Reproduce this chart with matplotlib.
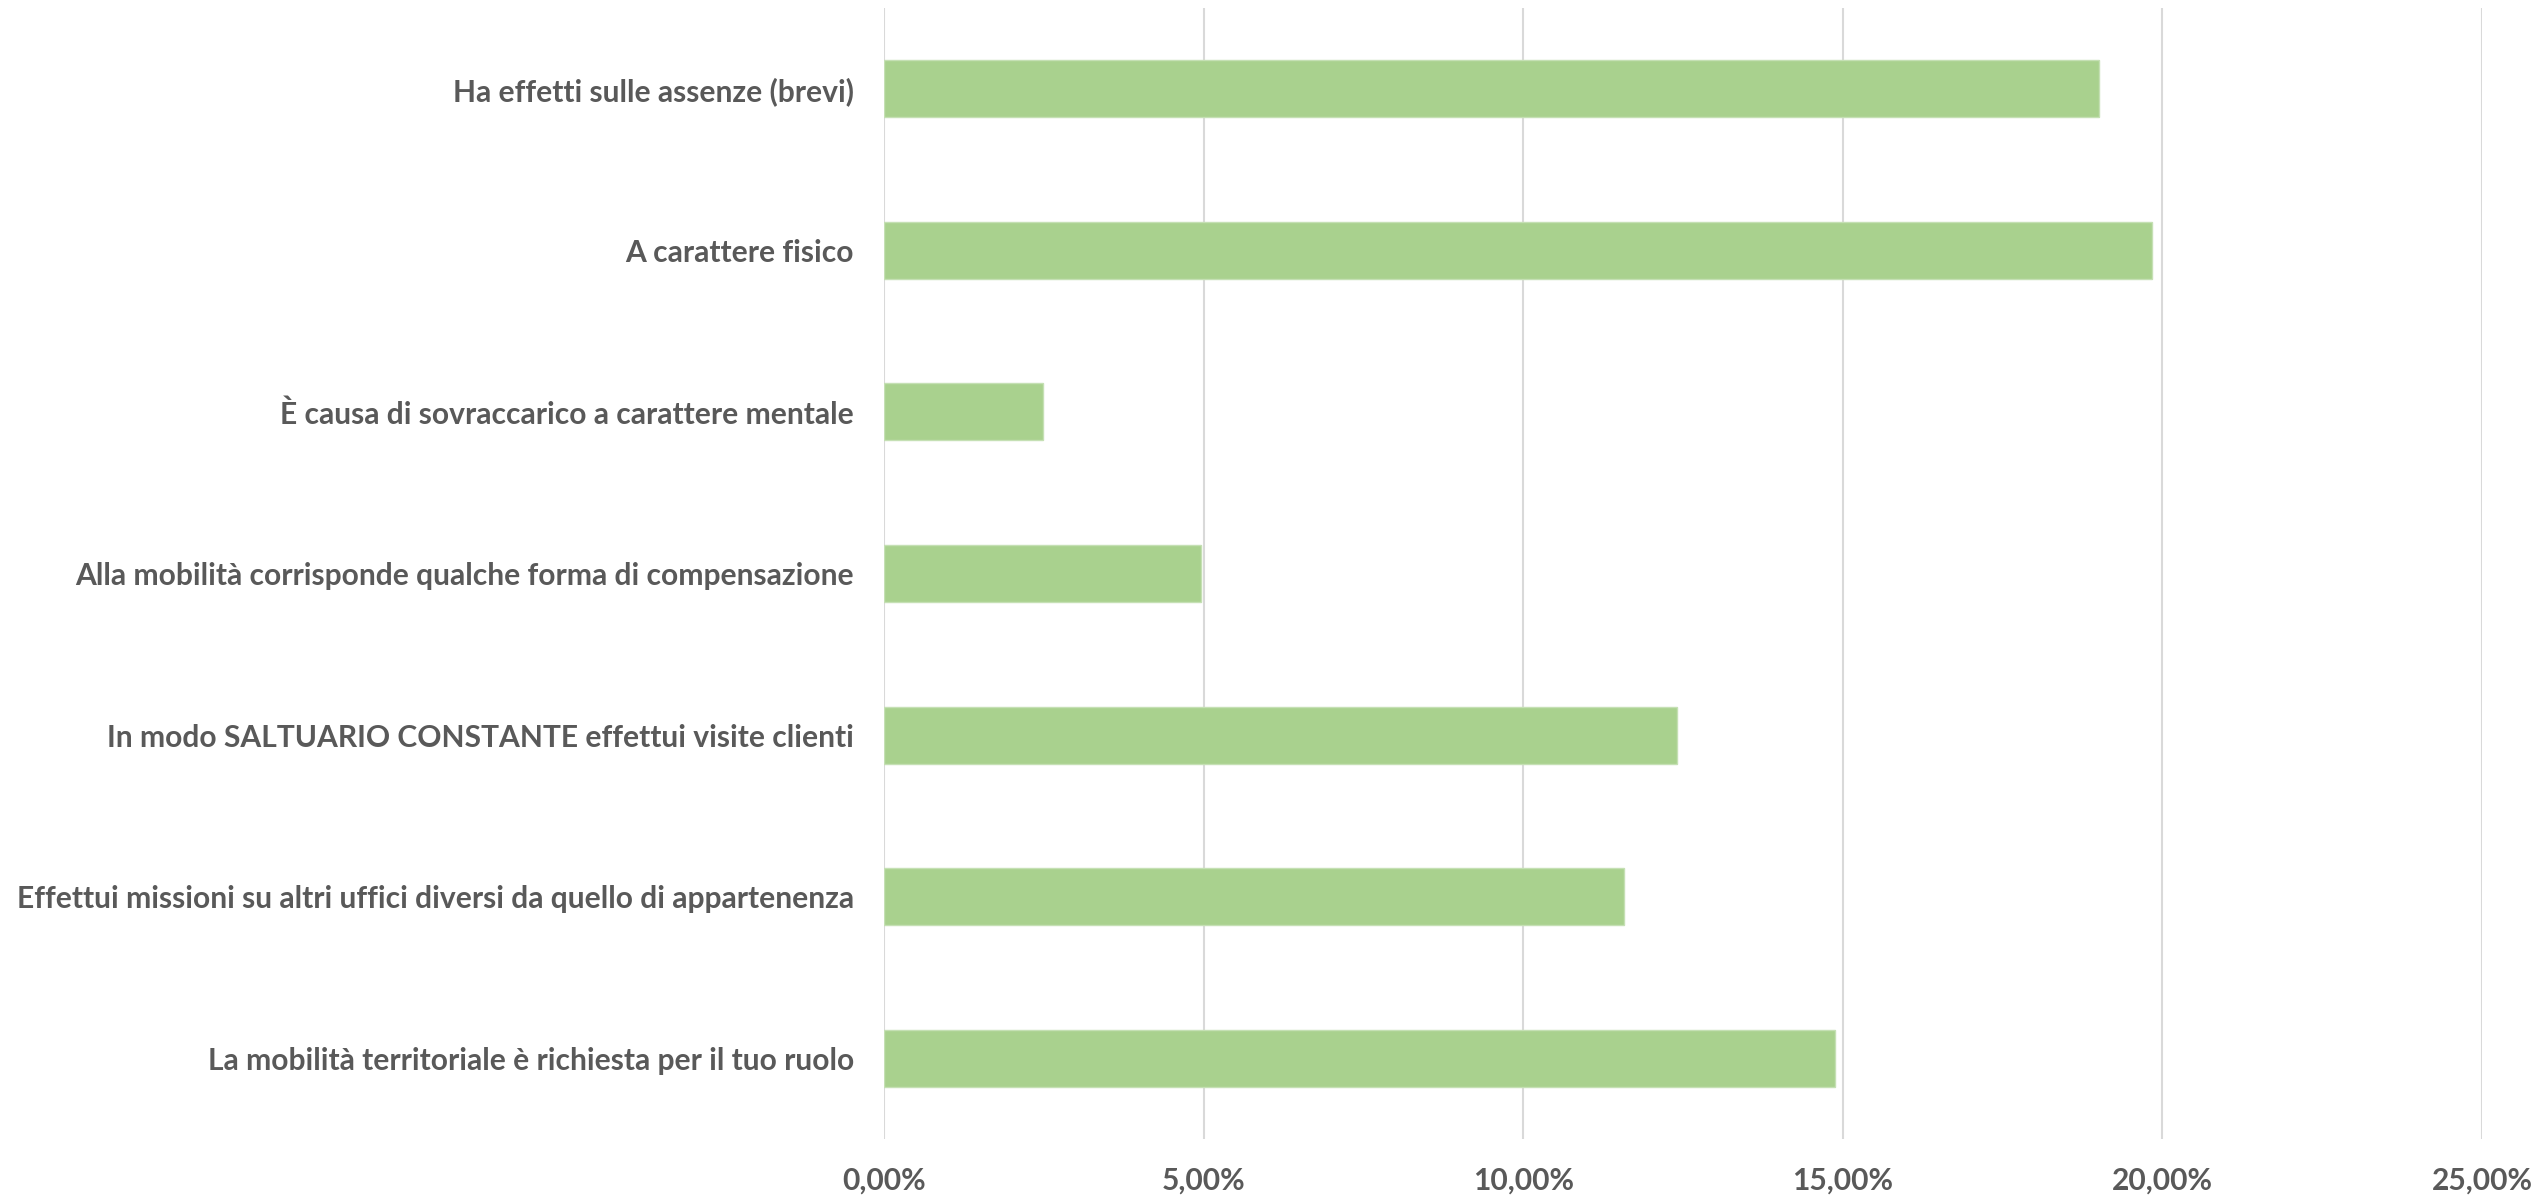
import matplotlib
matplotlib.use("Agg")
import matplotlib.pyplot as plt
from matplotlib import font_manager
from matplotlib.ticker import FuncFormatter

# voci della domanda sulla mobilità (dall'alto verso il basso)
categorie = [
    "Ha effetti sulle assenze (brevi)",
    "A carattere fisico",
    "È causa di sovraccarico a carattere mentale",
    "Alla mobilità corrisponde qualche forma di compensazione",
    "In modo SALTUARIO CONSTANTE effettui visite clienti",
    "Effettui missioni su altri uffici diversi da quello di appartenenza",
    "La mobilità territoriale è richiesta per il tuo ruolo",
]
percentuali = [0.1901, 0.1984, 0.0248, 0.0496, 0.1240, 0.1157, 0.1488]
tick_valori = [0.0, 0.05, 0.10, 0.15, 0.20, 0.25]

GRIGIO = "#595959"
VERDE = "#a9d18e"

disponibili = {f.name for f in font_manager.fontManager.ttflist}
famiglia = "Liberation Sans Narrow" if "Liberation Sans Narrow" in disponibili else "Lato"
plt.rcParams["font.family"] = [famiglia, "DejaVu Sans"]

fig = plt.figure(figsize=(25.42, 11.98), dpi=100)
ax = fig.add_axes([0.3479, 0.04925, 0.9764 - 0.3479, 0.99332 - 0.04925])

pos = list(range(len(categorie)))
ax.barh(pos, percentuali, height=0.353, color=VERDE, edgecolor="#c5e0b4",
        linewidth=1.0, zorder=3)

ax.set_ylim(len(categorie) - 0.5, -0.5)
ax.set_xlim(0, 0.25)
ax.set_yticks(pos)
ax.set_yticklabels(categorie)
ax.set_xticks(tick_valori)
ax.xaxis.set_major_formatter(
    FuncFormatter(lambda v, _: f"{v * 100:.2f}%".replace(".", ",")))

ax.grid(axis="x", color="#d9d9d9", linewidth=1.5, zorder=0)
ax.grid(axis="y", visible=False)
for s in ax.spines.values():
    s.set_visible(False)

# dimensione del testo scelta perché l'etichetta più lunga occupi ~838 px
size = 20
ax.tick_params(axis="y", length=0, pad=22, labelsize=size, labelcolor=GRIGIO)
for lab in ax.get_yticklabels():
    lab.set_fontweight("bold")
r = fig.canvas.get_renderer()
larghezza = max(l.get_window_extent(r).width for l in ax.get_yticklabels())
size = size * 838 / larghezza

ax.tick_params(axis="y", length=0, pad=22, labelsize=size, labelcolor=GRIGIO)
ax.tick_params(axis="x", length=0, pad=20, labelsize=size, labelcolor=GRIGIO)
for lab in ax.get_yticklabels() + ax.get_xticklabels():
    lab.set_fontweight("bold")

fig.savefig("out.png", dpi=100, facecolor="white")
